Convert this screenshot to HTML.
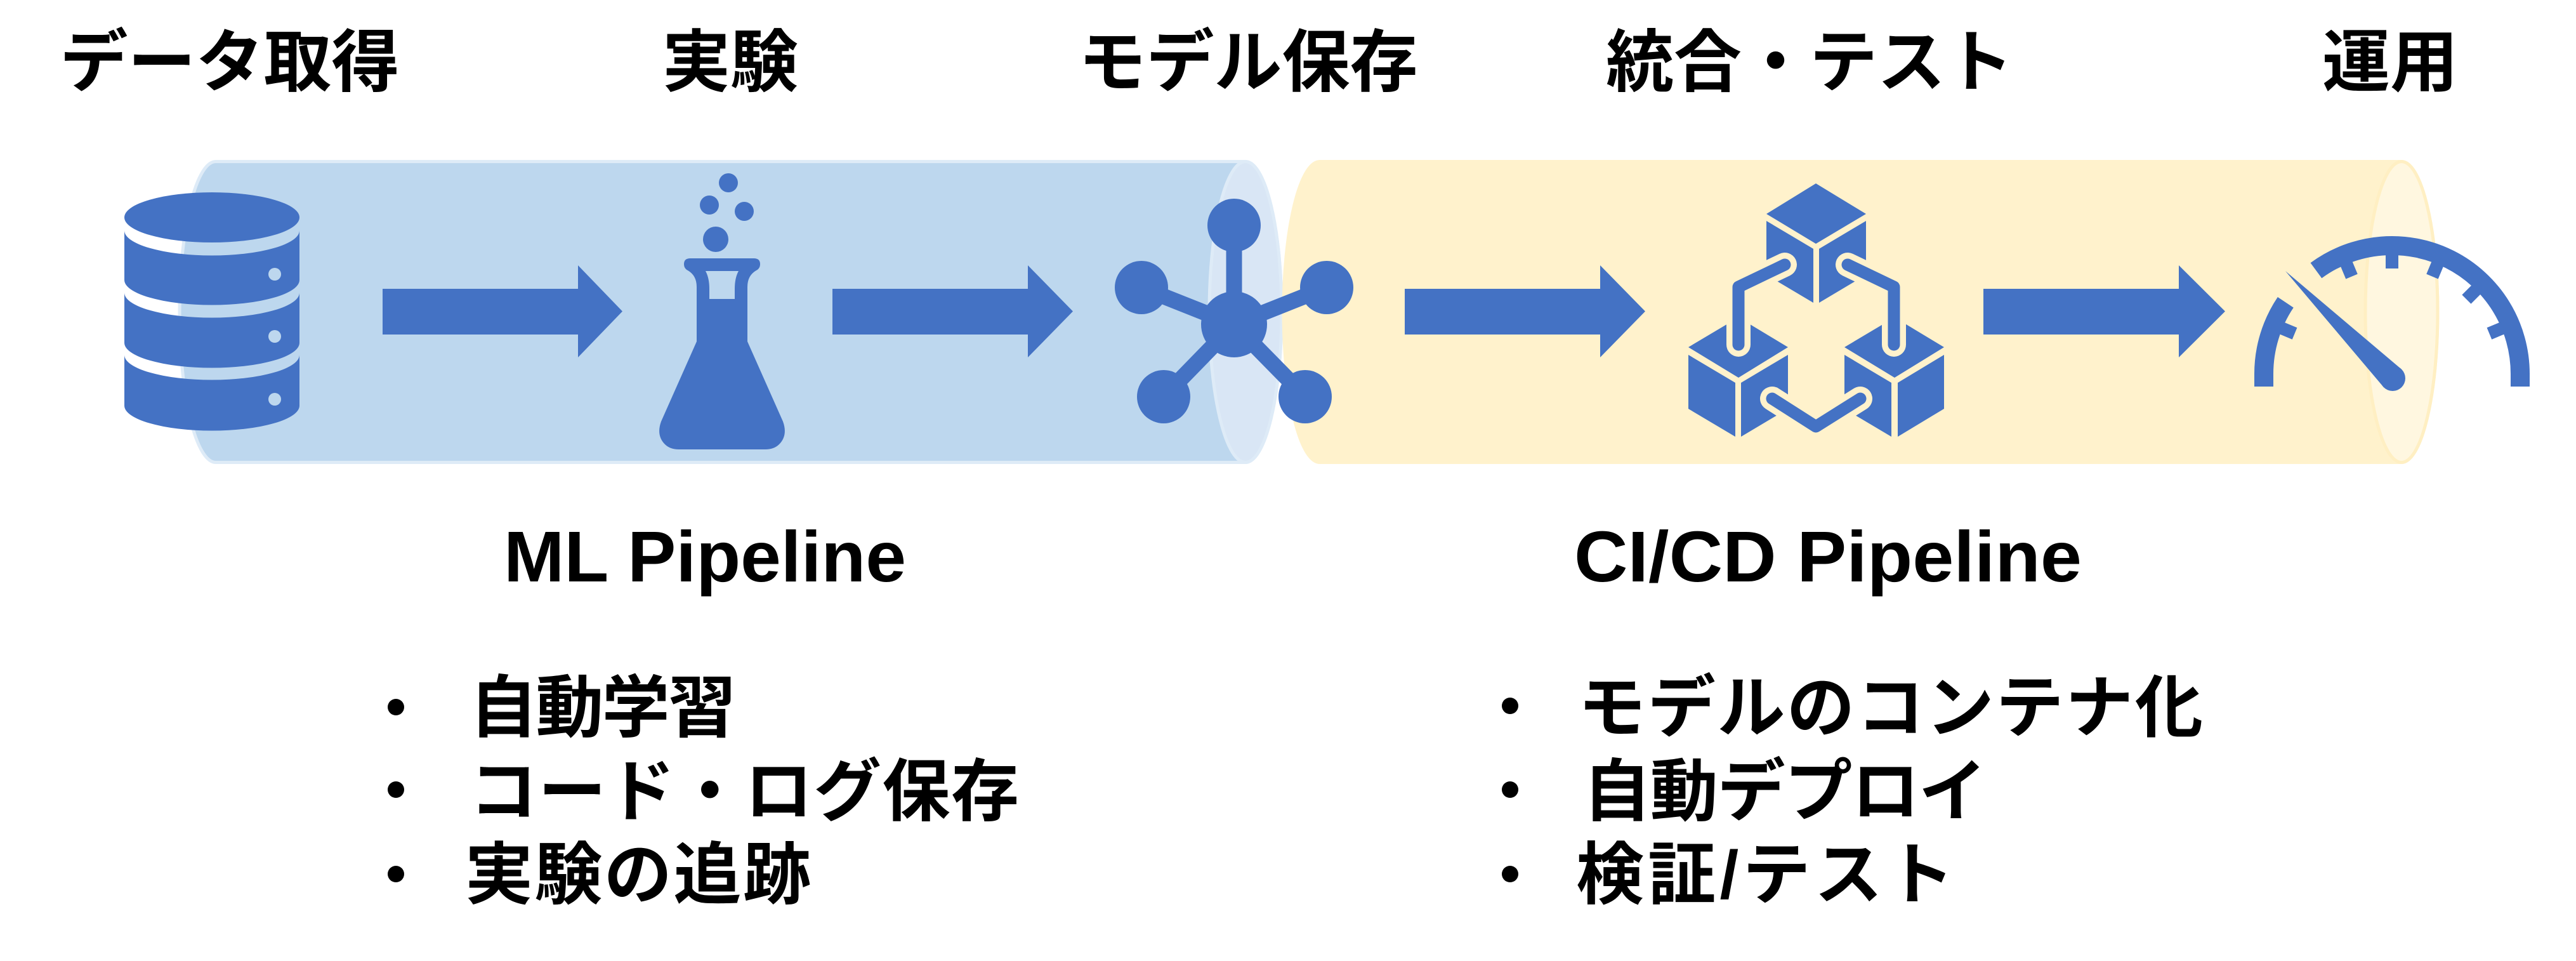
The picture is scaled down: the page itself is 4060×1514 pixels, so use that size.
<!DOCTYPE html>
<html>
<head>
<meta charset="utf-8">
<style>
  html, body { margin: 0; padding: 0; background: #ffffff; }
  body { width: 4060px; height: 1514px; overflow: hidden; }
  svg { display: block; }
  .jp { font-family: "Liberation Sans", "Noto Sans CJK JP", sans-serif; font-weight: bold; fill: #000; }
  .en { font-family: "Liberation Sans", "Noto Sans CJK JP", sans-serif; font-weight: bold; fill: #000; }
</style>
</head>
<body>
<svg width="4060" height="1514" viewBox="0 0 4060 1514" xmlns="http://www.w3.org/2000/svg">
  <rect x="0" y="0" width="4060" height="1514" fill="#ffffff"/>

  <!-- Headings -->
  <text class="jp" x="362" y="135" font-size="107" text-anchor="middle">データ取得</text>
  <text class="jp" x="1151" y="135" font-size="107" text-anchor="middle">実験</text>
  <text class="jp" x="1967" y="135" font-size="107" text-anchor="middle">モデル保存</text>
  <text class="jp" x="2852" y="135" font-size="107" text-anchor="middle">統合・テスト</text>
  <text class="jp" x="3767" y="135" font-size="107" text-anchor="middle">運用</text>

  <!-- Blue cylinder (ML pipeline) -->
  <path d="M 340 254.5 L 1963 254.5 A 57 237 0 0 1 1963 728.5 L 340 728.5 A 57 237 0 0 1 340 254.5 Z"
        fill="#BDD7EE" stroke="#DEEBF7" stroke-width="5"/>
  <ellipse cx="1963" cy="491.5" rx="57" ry="237" fill="#D9E6F5" stroke="#DEEBF7" stroke-width="5"/>

  <!-- Yellow cylinder (CI/CD pipeline) -->
  <path d="M 2080 254.5 L 3785 254.5 A 57 237 0 0 1 3785 728.5 L 2080 728.5 A 57 237 0 0 1 2080 254.5 Z"
        fill="#FFF2CC" stroke="#FFF2CC" stroke-width="5"/>
  <ellipse cx="3785" cy="491.5" rx="57" ry="237" fill="#FFF7E0" stroke="#FFEFC3" stroke-width="5"/>

  <!-- Database icon -->
  <g fill="#4472C4">
    <ellipse cx="334" cy="342.5" rx="138" ry="39.5"/>
    <path d="M 196 363 A 138 39.5 0 0 0 472 363 L 472 441 A 138 39.5 0 0 1 196 441 Z"/>
    <path d="M 196 461 A 138 39.5 0 0 0 472 461 L 472 540 A 138 39.5 0 0 1 196 540 Z"/>
    <path d="M 196 559 A 138 39.5 0 0 0 472 559 L 472 639 A 138 39.5 0 0 1 196 639 Z"/>
  </g>
  <g fill="#BDD7EE">
    <circle cx="433" cy="432" r="10"/>
    <circle cx="433" cy="530" r="10"/>
    <circle cx="433" cy="629" r="10"/>
  </g>

  <!-- Arrows -->
  <g fill="#4472C4">
    <polygon points="603,455 911,455 911,418 981,490.5 911,563 911,527 603,527"/>
    <polygon points="1312,455 1620,455 1620,418 1691,490.5 1620,563 1620,527 1312,527"/>
    <polygon points="2214,455 2522,455 2522,418 2593,490.5 2522,563 2522,527 2214,527"/>
    <polygon points="3126,455 3434,455 3434,418 3507,490.5 3434,563 3434,527 3126,527"/>
  </g>

  <!-- Flask icon -->
  <g fill="#4472C4">
    <circle cx="1148" cy="288" r="15"/>
    <circle cx="1118" cy="323" r="15"/>
    <circle cx="1173" cy="333" r="15"/>
    <circle cx="1128" cy="377" r="20"/>
    <path fill-rule="evenodd" d="M 1088 407 L 1188 407 Q 1198 407 1198 416 Q 1198 423 1192 426 Q 1178 434 1178 452 L 1178 538 L 1234 664 Q 1242 686 1228 700 Q 1220 708 1206 708 L 1070 708 Q 1056 708 1048 700 Q 1034 686 1042 664 L 1098 538 L 1098 452 Q 1098 434 1084 426 Q 1078 423 1078 416 Q 1078 407 1088 407 Z
      M 1112 427 L 1164 427 Q 1158 438 1158 455 L 1158 471 L 1118 471 L 1118 455 Q 1118 438 1112 427 Z"/>
  </g>

  <!-- Molecule / network icon -->
  <g stroke="#4472C4" stroke-width="25">
    <line x1="1945" y1="511" x2="1945" y2="355"/>
    <line x1="1945" y1="511" x2="1799" y2="453"/>
    <line x1="1945" y1="511" x2="2091" y2="453"/>
    <line x1="1945" y1="511" x2="1834" y2="625"/>
    <line x1="1945" y1="511" x2="2057" y2="625"/>
  </g>
  <g fill="#4472C4">
    <circle cx="1945" cy="511" r="52"/>
    <circle cx="1945" cy="355" r="42"/>
    <circle cx="1799" cy="453" r="42"/>
    <circle cx="2091" cy="453" r="42"/>
    <circle cx="1834" cy="625" r="42"/>
    <circle cx="2057" cy="625" r="42"/>
  </g>

  <!-- Cubes icon -->
  <g fill="#4472C4">
    <!-- top cube -->
    <polygon points="2862,289 2941,337 2862,384 2784,337"/>
    <polygon points="2784,348 2858,392 2858,477 2784,433"/>
    <polygon points="2867,392 2941,348 2941,433 2867,477"/>
    <!-- bottom-left cube -->
    <polygon points="2740,500 2818,547 2740,595 2661,547"/>
    <polygon points="2661,559 2735,603 2735,688 2661,644"/>
    <polygon points="2744,603 2818,559 2818,644 2744,688"/>
    <!-- bottom-right cube -->
    <polygon points="2986,500 3064,547 2986,595 2907,547"/>
    <polygon points="2907,559 2981,603 2981,688 2907,644"/>
    <polygon points="2991,603 3064,559 3064,644 2991,688"/>
  </g>
  <g fill="none" stroke-linecap="round" stroke-linejoin="round">
    <g stroke="#FFF2CC" stroke-width="38">
      <polyline points="2813,417 2740,452 2740,543"/>
      <polyline points="2912,417 2985,452 2985,543"/>
      <polyline points="2793,628 2862,672 2932,628"/>
    </g>
    <g stroke="#4472C4" stroke-width="19">
      <polyline points="2813,417 2740,452 2740,543"/>
      <polyline points="2912,417 2985,452 2985,543"/>
      <polyline points="2793,628 2862,672 2932,628"/>
    </g>
  </g>

  <!-- Gauge icon -->
  <g fill="none" stroke="#4472C4" stroke-width="30" stroke-linecap="butt">
    <path d="M 3972 609 L 3972 589 A 202 202 0 0 0 3650.4 426.2"/>
    <path d="M 3602.3 476.3 A 202 202 0 0 0 3568 589 L 3568 609"/>
  </g>
  <g stroke="#4472C4" stroke-width="20" stroke-linecap="butt">
    <!-- ticks at 22.5, 45, 67.5, 90, 112.5, 157.5 deg ; from r=166 to r=190 -->
    <line x1="3923.4" y1="525.5" x2="3945.5" y2="516.3"/>
    <line x1="3887.4" y1="471.6" x2="3904.4" y2="454.6"/>
    <line x1="3833.5" y1="435.6" x2="3842.7" y2="413.5"/>
    <line x1="3770" y1="423" x2="3770" y2="399"/>
    <line x1="3706.5" y1="435.6" x2="3697.3" y2="413.5"/>
    <line x1="3616.6" y1="525.5" x2="3594.5" y2="516.3"/>
  </g>
  <g fill="#4472C4">
    <polygon points="3602,427 3785.1,581.9 3756.9,610.1"/>
    <circle cx="3771" cy="596" r="20"/>
  </g>

  <!-- Pipeline titles -->
  <text class="en" x="794" y="916" font-size="113" textLength="634" lengthAdjust="spacingAndGlyphs">ML Pipeline</text>
  <text class="en" x="2481" y="916" font-size="113" textLength="800" lengthAdjust="spacingAndGlyphs">CI/CD Pipeline</text>

  <!-- Bullets left -->
  <g fill="#000">
    <circle cx="624" cy="1114" r="13"/>
    <circle cx="624" cy="1244" r="13"/>
    <circle cx="624" cy="1377" r="13"/>
    <circle cx="2380" cy="1112" r="13"/>
    <circle cx="2380" cy="1244" r="13"/>
    <circle cx="2380" cy="1377" r="13"/>
  </g>
  <text class="jp" x="740" y="1152" font-size="107" textLength="420">自動学習</text>
  <text class="jp" x="740" y="1284" font-size="107" textLength="866">コード・ログ保存</text>
  <text class="jp" x="733" y="1415" font-size="107" textLength="545">実験の追跡</text>

  <!-- Bullets right -->
  <text class="jp" x="2487" y="1152" font-size="107" textLength="985">モデルのコンテナ化</text>
  <text class="jp" x="2495" y="1284" font-size="107" textLength="636">自動デプロイ</text>
  <text class="jp" x="2484" y="1415" font-size="107" textLength="596">検証/テスト</text>
</svg>
</body>
</html>
